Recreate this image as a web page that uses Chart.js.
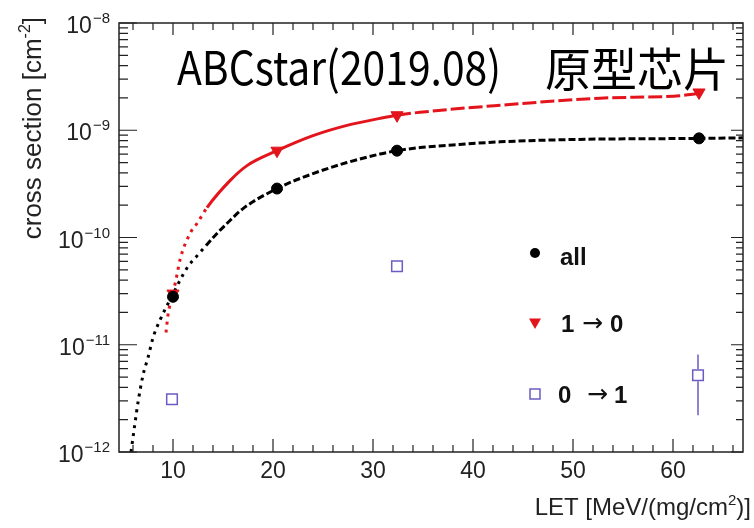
<!DOCTYPE html>
<html>
<head>
<meta charset="utf-8">
<script src="https://cdn.jsdelivr.net/npm/chart.js@4/dist/chart.umd.min.js"></script>
<style>
  body { margin: 0; background: #fff; }
  canvas { display: block; }
</style>
</head>
<body>
<canvas id="xsec-chart" width="754" height="528"></canvas>
<script>
// measured points
const letPoints = [10, 20.4, 32.4, 62.6];
const xsAll = [2.8e-11, 2.86e-10, 6.45e-10, 8.4e-10];
const xsOneToZero = [3.0e-11, 6.45e-10, 1.38e-9, 2.25e-9];
const letZeroToOne = [9.9, 32.4, 62.5];
const xsZeroToOne = [3.1e-12, 5.4e-11, 5.2e-12];
const errLowZeroToOne = [null, null, 2.2e-12];
const errHighZeroToOne = [null, null, 8.1e-12];

// fit curves
const fitAllX = [5.8, 6.2, 6.5, 7.0, 7.5, 8.0, 8.7, 9.9, 11.4, 12.5, 13.3, 14.4, 15.7, 17, 20.4, 24, 27.4, 30.7, 32.4, 34.7, 38, 42.7, 50, 62.6, 67];
const fitAllY = [1.0e-12, 1.86e-12, 2.9e-12, 5.2e-12, 7.6e-12, 1.16e-11, 1.7e-11, 2.85e-11, 5.2e-11, 6.9e-11, 8.4e-11, 1.09e-10, 1.44e-10, 1.86e-10, 2.86e-10, 3.94e-10, 5.0e-10, 6.0e-10, 6.45e-10, 6.9e-10, 7.3e-10, 7.8e-10, 8.2e-10, 8.4e-10, 8.5e-10];
const fitOneZeroX = [9.3, 9.5, 10, 10.4, 10.7, 11.7, 12.4, 13.4, 15.7, 17.4, 20.4, 24, 27.4, 30.7, 32.4, 34.7, 42.7, 52.7, 60.7, 62.6];
const fitOneZeroY = [1.3e-11, 1.9e-11, 3.0e-11, 4.5e-11, 6.2e-11, 1.09e-10, 1.35e-10, 1.9e-10, 3.39e-10, 4.68e-10, 6.45e-10, 8.9e-10, 1.11e-9, 1.29e-9, 1.38e-9, 1.47e-9, 1.71e-9, 1.99e-9, 2.1e-9, 2.2e-9];

const xTickLabels = [10, 20, 30, 40, 50, 60];
const yTickExponents = [-12, -11, -10, -9, -8];

const RED = '#e3141b';
const BLUE = '#6a5cc4';
const SANS = '"Liberation Sans", Arial, sans-serif';

function toXY(xs, ys) {
  return xs.map((x, i) => ({ x: x, y: ys[i] }));
}

function downTriangle(ctx, x, y, r) {
  ctx.beginPath();
  ctx.moveTo(x - r, y - r * 0.75);
  ctx.lineTo(x + r, y - r * 0.75);
  ctx.lineTo(x, y + r);
  ctx.closePath();
  ctx.fill();
}

function legendText(ctx, left, leftX, arrowX, right, rightX, y) {
  ctx.font = 'bold 24px ' + SANS;
  ctx.fillText(left, leftX, y);
  ctx.font = '25px "DejaVu Sans", sans-serif';
  ctx.fillText('\u2192', arrowX, y - 1);
  ctx.font = 'bold 24px ' + SANS;
  ctx.fillText(right, rightX, y);
}

const frameAndText = {
  id: 'frameAndText',
  afterDatasetsDraw(chart) {
    const ctx = chart.ctx;
    const area = chart.chartArea;
    const xs = chart.scales.x;
    const ys = chart.scales.y;
    ctx.save();

    // error bars of 0 -> 1
    ctx.strokeStyle = BLUE;
    ctx.lineWidth = 1.5;
    letZeroToOne.forEach((x, i) => {
      if (errLowZeroToOne[i] == null) return;
      const px = xs.getPixelForValue(x);
      const py = ys.getPixelForValue(xsZeroToOne[i]);
      ctx.beginPath();
      ctx.moveTo(px, ys.getPixelForValue(errHighZeroToOne[i]));
      ctx.lineTo(px, py - 6);
      ctx.moveTo(px, py + 6);
      ctx.lineTo(px, ys.getPixelForValue(errLowZeroToOne[i]));
      ctx.stroke();
    });

    // frame
    ctx.strokeStyle = '#222';
    ctx.lineWidth = 1.5;
    ctx.strokeRect(area.left, area.top, area.right - area.left, area.bottom - area.top);

    // x ticks (bottom and top)
    ctx.lineWidth = 1.2;
    ctx.beginPath();
    for (let v = 6; v <= 66; v += 2) {
      const px = xs.getPixelForValue(v);
      const len = v % 10 === 0 ? 13 : 7;
      ctx.moveTo(px, area.bottom);
      ctx.lineTo(px, area.bottom - len);
      ctx.moveTo(px, area.top);
      ctx.lineTo(px, area.top + (v % 10 === 0 ? 12 : 7));
    }
    // y ticks (left and right)
    for (let e = -12; e <= -8; e++) {
      for (let m = 1; m <= 9; m++) {
        const v = m * Math.pow(10, e);
        if (v > 1.0001e-8) break;
        const py = ys.getPixelForValue(v);
        const major = m === 1;
        ctx.moveTo(area.left, py);
        ctx.lineTo(area.left + (major ? 18 : 9), py);
        ctx.moveTo(area.right, py);
        ctx.lineTo(area.right - (major ? 12 : 7), py);
      }
    }
    ctx.stroke();

    // x tick labels
    ctx.fillStyle = '#222';
    ctx.font = '23px ' + SANS;
    ctx.textAlign = 'center';
    ctx.textBaseline = 'alphabetic';
    xTickLabels.forEach(v => {
      ctx.fillText(String(v), xs.getPixelForValue(v), 478);
    });

    // y tick labels 10^n
    yTickExponents.forEach(e => {
      const py = ys.getPixelForValue(Math.pow(10, e));
      const sup = '\u2212' + Math.abs(e);
      ctx.font = '15px ' + SANS;
      const sw = ctx.measureText(sup).width;
      ctx.textAlign = 'left';
      ctx.fillText(sup, 110 - sw, py);
      ctx.font = '23px ' + SANS;
      ctx.textAlign = 'right';
      ctx.fillText('10', 110 - sw - 1, py + 10);
    });

    // x axis title
    ctx.textAlign = 'left';
    const xParts = [['LET [MeV/(mg/cm', 24, 0], ['2', 15, -10], [')]', 24, 0]];
    let total = 0;
    xParts.forEach(p => { ctx.font = p[1] + 'px ' + SANS; total += ctx.measureText(p[0]).width; });
    let cx = 751 - total;
    xParts.forEach(p => {
      ctx.font = p[1] + 'px ' + SANS;
      ctx.fillText(p[0], cx, 515 + p[2]);
      cx += ctx.measureText(p[0]).width;
    });

    // y axis title
    ctx.save();
    ctx.translate(41, 17);
    ctx.rotate(-Math.PI / 2);
    const yParts = [['cross section [cm', 26, 0], ['-2', 16, -11], [']', 26, 0]];
    total = 0;
    yParts.forEach(p => { ctx.font = p[1] + 'px ' + SANS; total += ctx.measureText(p[0]).width; });
    cx = -total;
    yParts.forEach(p => {
      ctx.font = p[1] + 'px ' + SANS;
      ctx.fillText(p[0], cx, p[2]);
      cx += ctx.measureText(p[0]).width;
    });
    ctx.restore();

    // legend
    ctx.fillStyle = '#000';
    ctx.beginPath();
    ctx.arc(535, 253, 5, 0, Math.PI * 2);
    ctx.fill();
    ctx.fillStyle = RED;
    downTriangle(ctx, 535, 323, 6);
    ctx.strokeStyle = BLUE;
    ctx.lineWidth = 1.5;
    ctx.fillStyle = '#fff';
    ctx.fillRect(530, 389, 10, 10);
    ctx.strokeRect(530, 389, 10, 10);
    ctx.fillStyle = '#111';
    ctx.font = 'bold 24px ' + SANS;
    ctx.textAlign = 'left';
    ctx.fillText('all', 560, 265);
    legendText(ctx, '1', 561, 582, '0', 610, 332);
    legendText(ctx, '0', 558, 587, '1', 614, 403);

    // title
    ctx.fillStyle = '#000';
    ctx.font = '46px "Noto Sans CJK SC", sans-serif';
    ctx.fillText('ABCstar(2019.08)', 177, 85, 324);
    ctx.fillText('原型芯片', 545, 86, 190);

    ctx.restore();
  }
};

const ctx = document.getElementById('xsec-chart').getContext('2d');
const chart = new Chart(ctx, {
  type: 'scatter',
  data: {
    datasets: [
      {
        label: 'all',
        data: toXY(letPoints, xsAll),
        pointStyle: 'circle',
        pointRadius: 5.5,
        backgroundColor: '#000',
        borderColor: '#000',
        order: 0
      },
      {
        label: '1 -> 0',
        data: toXY(letPoints, xsOneToZero),
        pointStyle: 'triangle',
        rotation: 180,
        pointRadius: 7,
        backgroundColor: RED,
        borderColor: RED,
        order: 0
      },
      {
        label: '0 -> 1',
        data: toXY(letZeroToOne, xsZeroToOne),
        pointStyle: 'rect',
        pointRadius: 7.5,
        backgroundColor: '#fff',
        borderColor: BLUE,
        borderWidth: 1.5,
        order: 0
      },
      {
        label: 'fit all',
        data: toXY(fitAllX, fitAllY),
        showLine: true,
        cubicInterpolationMode: 'monotone',
        pointRadius: 0,
        borderColor: '#000',
        borderWidth: 3,
        segment: {
          borderDash: c => c.p0.parsed.x < 13.3 ? [3, 5] : [7, 3]
        },
        order: 1
      },
      {
        label: 'fit 1 -> 0',
        data: toXY(fitOneZeroX, fitOneZeroY),
        showLine: true,
        cubicInterpolationMode: 'monotone',
        pointRadius: 0,
        borderColor: RED,
        borderWidth: 3,
        segment: {
          borderDash: c => c.p0.parsed.x < 13.4 ? [3, 5] : (c.p0.parsed.x < 32.4 ? [] : [14, 4])
        },
        order: 1
      }
    ]
  },
  options: {
    responsive: false,
    animation: false,
    devicePixelRatio: 1,
    layout: { padding: { left: 119, right: 11, top: 23, bottom: 76 } },
    plugins: { legend: { display: false }, tooltip: { enabled: false } },
    scales: {
      x: { type: 'linear', min: 4.6, max: 67, display: false },
      y: { type: 'logarithmic', min: 1e-12, max: 1e-8, display: false }
    }
  },
  plugins: [frameAndText]
});
</script>
</body>
</html>
